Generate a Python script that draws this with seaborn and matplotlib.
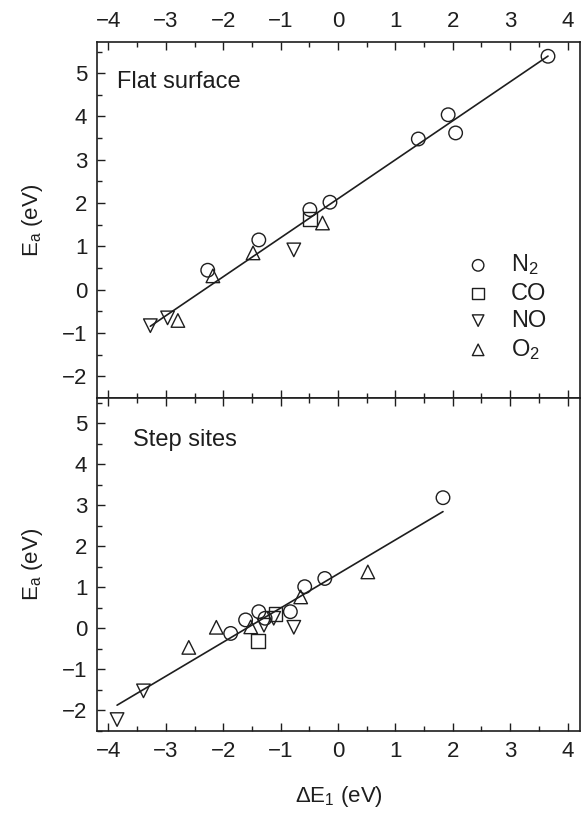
""" Activation energy vs reaction energy: flat surface and step sites """

import numpy as np
import pandas as pd
import matplotlib
matplotlib.use("Agg")
import matplotlib.pyplot as plt
from matplotlib.ticker import MultipleLocator
import seaborn as sns

# Data
species = ["N2", "CO", "NO", "O2"]
labels = {"N2": "N$_2$", "CO": "CO", "NO": "NO", "O2": "O$_2$"}
markers = {"N2": "o", "CO": "s", "NO": "v", "O2": "^"}

# Flat surface
flat_n2_x = [3.66, 1.92, 2.05, 1.40, -0.14, -0.49, -1.38, -2.27]
flat_n2_y = [5.39, 4.04, 3.62, 3.48, 2.02, 1.85, 1.15, 0.45]
flat_co_x = [-0.49]
flat_co_y = [1.63]
flat_no_x = [-0.77, -3.27, -2.97]
flat_no_y = [0.92, -0.83, -0.65]
flat_o2_x = [-0.27, -1.48, -2.18, -2.79]
flat_o2_y = [1.54, 0.85, 0.32, -0.71]
flat_fit = (0.90, 2.10)  # slope, intercept

# Step sites
step_n2_x = [1.83, -0.23, -0.58, -0.83, -1.27, -1.38, -1.61, -1.87]
step_n2_y = [3.18, 1.21, 1.01, 0.40, 0.24, 0.40, 0.20, -0.13]
step_co_x = [-1.39, -1.09]
step_co_y = [-0.31, 0.34]
step_no_x = [-3.85, -3.39, -1.29, -1.12, -0.77]
step_no_y = [-2.23, -1.53, 0.07, 0.24, 0.02]
step_o2_x = [0.52, -0.65, -1.52, -2.12, -2.60]
step_o2_y = [1.37, 0.76, 0.03, 0.02, -0.47]
step_fit = (0.831, 1.32)


def make_df(xs, ys):
    """ Stack the per-species lists into one long dataframe """
    frames = []
    for sp, x, y in zip(species, xs, ys):
        frames.append(pd.DataFrame({"dE1": x, "Ea": y, "species": sp}))
    return pd.concat(frames, ignore_index=True)


flat = make_df([flat_n2_x, flat_co_x, flat_no_x, flat_o2_x],
               [flat_n2_y, flat_co_y, flat_no_y, flat_o2_y])
step = make_df([step_n2_x, step_co_x, step_no_x, step_o2_x],
               [step_n2_y, step_co_y, step_no_y, step_o2_y])

sns.set_style("ticks")
plt.rcParams["font.family"] = ["Liberation Sans", "DejaVu Sans"]
plt.rcParams["mathtext.default"] = "regular"
plt.rcParams["axes.linewidth"] = 1.2

ink = "#1e1e1e"

fig, (ax1, ax2) = plt.subplots(2, 1, figsize=(5.86, 8.15), dpi=100, sharex=True,
                               gridspec_kw=dict(hspace=0, height_ratios=[356, 333]))
fig.subplots_adjust(left=0.1655, right=0.99, top=0.9485, bottom=0.103)


def draw_panel(ax, df, fit):
    # straight-line fit drawn over the data range
    xr = np.array([df["dE1"].min(), df["dE1"].max()])
    sns.lineplot(x=xr, y=fit[0] * xr + fit[1], ax=ax, color=ink, lw=1.2)
    for sp in species:
        sub = df[df["species"] == sp]
        sns.scatterplot(data=sub, x="dE1", y="Ea", marker=markers[sp], s=95,
                        facecolors="none", edgecolor=ink, linewidth=1.0,
                        label=labels[sp], ax=ax, zorder=3)


draw_panel(ax1, flat, flat_fit)
draw_panel(ax2, step, step_fit)

ax1.set_xlim(-4.2, 4.22)
ax1.set_ylim(-2.5, 5.72)
ax2.set_ylim(-2.51, 5.61)

for ax in (ax1, ax2):
    ax.xaxis.set_major_locator(MultipleLocator(1))
    ax.xaxis.set_minor_locator(MultipleLocator(0.5))
    ax.yaxis.set_major_locator(MultipleLocator(1))
    ax.yaxis.set_minor_locator(MultipleLocator(0.5))
    ax.tick_params(which="both", direction="in", top=True, bottom=True,
                   left=True, right=False, color=ink, width=1.0, labelsize=16,
                   labelcolor=ink, pad=7)
    ax.tick_params(which="major", length=6)
    ax.tick_params(which="minor", length=3.5)
    ax.set_ylabel("E$_a$ (eV)", fontsize=16, color=ink, labelpad=12)
    for s in ax.spines.values():
        s.set_color(ink)

ax1.tick_params(axis="x", labeltop=True, labelbottom=False)
ax2.tick_params(axis="x", labeltop=False, labelbottom=True)
ax1.set_xlabel("")
ax2.set_xlabel("\u0394E$_1$ (eV)", fontsize=16, color=ink, labelpad=16)

ax1.text(0.041, 0.888, "Flat surface", transform=ax1.transAxes, fontsize=17,
         color=ink, va="center", ha="left")
ax2.text(0.075, 0.874, "Step sites", transform=ax2.transAxes, fontsize=17,
         color=ink, va="center", ha="left")

ax1.legend(loc="center left", bbox_to_anchor=(0.74, 0.255), frameon=False,
           fontsize=17, handlelength=1.0, handletextpad=0.9, labelspacing=0.22,
           markerscale=0.85, borderpad=0, labelcolor=ink)
ax2.get_legend().remove()

fig.savefig("out.png", dpi=100)
